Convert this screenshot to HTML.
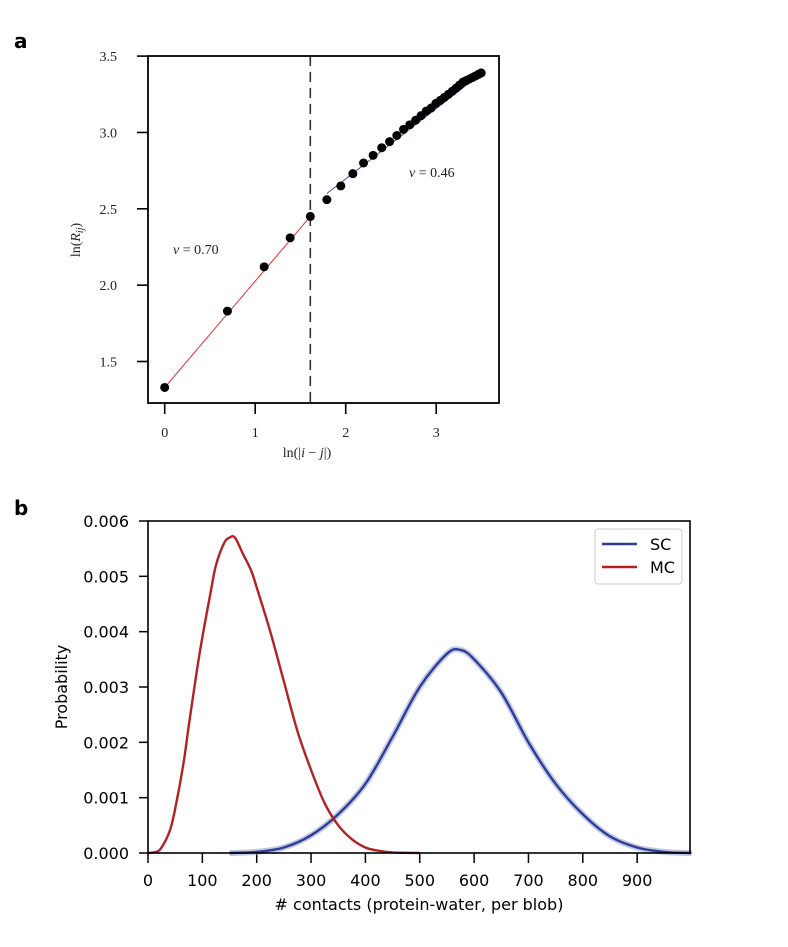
<!DOCTYPE html>
<html><head><meta charset="utf-8"><style>
body{margin:0;background:#fff;}
svg{display:block;}
.ser{font-family:"Liberation Serif",serif;}
.sans{font-family:"DejaVu Sans","Liberation Sans",sans-serif;}
</style></head><body>
<svg id="fig" width="788" height="947" viewBox="0 0 788 947" xmlns="http://www.w3.org/2000/svg">
<text x="14" y="48" class="sans" font-size="20" font-weight="bold">a</text>
<text x="14" y="515" class="sans" font-size="20" font-weight="bold">b</text>
<g id="pa"></g>
<g id="pb"></g>
</svg>
<script>
// ---- Panel a data ----
const aRedX=[0,0.693,1.099,1.386,1.609];
const aRedY=[1.33,1.83,2.12,2.31,2.45];
const aBlueX=[1.792,1.946,2.079,2.197,2.303,2.398,2.485,2.565,2.639,2.708,2.773,2.833,2.890,2.944,2.996,3.045,3.091,3.135,3.178,3.219,3.258,3.296,3.332,3.367,3.401,3.434,3.466,3.497];
const aBlueY=[2.56,2.65,2.73,2.80,2.85,2.90,2.94,2.98,3.02,3.05,3.08,3.11,3.14,3.16,3.19,3.21,3.23,3.25,3.27,3.29,3.31,3.33,3.34,3.35,3.36,3.37,3.38,3.39];
const aRedFit=[[0,1.33],[1.609,2.45]];
const aBlueFit=[[1.792,2.60],[3.497,3.385]];
const aXTicks=[0,1,2,3];
const aYTicks=[1.5,2.0,2.5,3.0,3.5];
const aYTickLabels=["1.5","2.0","2.5","3.0","3.5"];
const aCut=1.609;
// ---- Panel b data ----
const mcX=[0,15,25,40,50,65,75,90,100,115,125,140,150,160,175,190,200,225,250,275,300,325,350,375,400,425,450,500];
const mcY=[0,0.00002,0.0001,0.0004,0.0008,0.0016,0.0023,0.0033,0.0039,0.0047,0.0052,0.0056,0.0057,0.0057,0.0054,0.0051,0.0048,0.0040,0.0031,0.0022,0.0015,0.0009,0.0005,0.00025,0.0001,0.00004,0.00001,0];
const scX=[150,200,250,300,350,400,450,500,550,575,600,650,700,750,800,850,900,950,1000];
const scY=[0,0.00002,0.0001,0.00032,0.0007,0.00125,0.0021,0.0030,0.0036,0.00367,0.0035,0.0029,0.0020,0.00125,0.0007,0.0003,0.0001,0.00002,0];
const bXTicks=[0,100,200,300,400,500,600,700,800,900];
const bYTicks=[0,0.001,0.002,0.003,0.004,0.005,0.006];
const bYTickLabels=["0.000","0.001","0.002","0.003","0.004","0.005","0.006"];
const legendNames=["SC","MC"];
const legendColors=["#2e3d94","#b22222"];

const NS="http://www.w3.org/2000/svg";
function mk(p,tag,attrs){const e=document.createElementNS(NS,tag);for(const k in attrs)e.setAttribute(k,attrs[k]);p.appendChild(e);return e;}

// Panel a
(function(){
const g=document.getElementById('pa');
const L=148,R=499,T=56,B=403;
const xs=v=>164.7+(v-0)*90.5;
const ys=v=>361.5-(v-1.5)*152.7;
aXTicks.forEach(v=>{
 const t=mk(g,'line',{x1:xs(v),x2:xs(v),y1:B,y2:B+11,stroke:'#000','stroke-width':1.6});
 
 const l=mk(g,'text',{x:xs(v),y:437,'text-anchor':'middle','font-size':14,fill:'#222',class:'ser'});l.textContent=v;
 
});
aYTicks.forEach((v,i)=>{
 const t=mk(g,'line',{x1:L-11,x2:L,y1:ys(v),y2:ys(v),stroke:'#000','stroke-width':1.6});
 
 const l=mk(g,'text',{x:117,y:ys(v)+5,'text-anchor':'end','font-size':14,fill:'#222',class:'ser'});l.textContent=aYTickLabels[i];
 
});
const cut=mk(g,'line',{x1:xs(aCut),x2:xs(aCut),y1:T,y2:B,stroke:'#333','stroke-width':1.6,'stroke-dasharray':'10,6'});

const rf=mk(g,'line',{x1:xs(aRedFit[0][0]),y1:ys(aRedFit[0][1]),x2:xs(aRedFit[1][0]),y2:ys(aRedFit[1][1]),stroke:'#e03030','stroke-width':1});

const bf=mk(g,'line',{x1:xs(aBlueFit[0][0]),y1:ys(aBlueFit[0][1]),x2:xs(aBlueFit[1][0]),y2:ys(aBlueFit[1][1]),stroke:'#3a4fa0','stroke-width':1});

aRedX.concat(aBlueX).forEach((x,i)=>{
 const y=i<aRedX.length?aRedY[i]:aBlueY[i-aRedX.length];
 const c=mk(g,'circle',{cx:xs(x),cy:ys(y),r:4.5,fill:'#000'});
 
});
const fr=mk(g,'rect',{x:L,y:T,width:R-L,height:B-T,fill:'none',stroke:'#000','stroke-width':1.8});

const n1=mk(g,'text',{x:173,y:254,'font-size':14,fill:'#222',class:'ser'});n1.innerHTML='<tspan font-style="italic">ν</tspan> = 0.70';

const n2=mk(g,'text',{x:409,y:177,'font-size':14,fill:'#222',class:'ser'});n2.innerHTML='<tspan font-style="italic">ν</tspan> = 0.46';

const xt=mk(g,'text',{x:307,y:457,'text-anchor':'middle','font-size':14,fill:'#222',class:'ser'});xt.innerHTML='ln(|<tspan font-style="italic">i</tspan> − <tspan font-style="italic">j</tspan>|)';

const yt=mk(g,'text',{x:0,y:0,'text-anchor':'middle','font-size':14,fill:'#222',class:'ser',transform:'translate(80,240) rotate(-90)'});yt.innerHTML='ln(<tspan font-style="italic">R</tspan><tspan font-size="10" dy="3" font-style="italic">ij</tspan><tspan dy="-3">)</tspan>';

})();

// Panel b
(function(){
const g=document.getElementById('pb');
const L=148,R=690,T=521,B=853;
const xs=v=>L+v*0.5435;
const ys=v=>B-v/0.006*(B-T);
function path(X,Y){
 const P=X.map((x,i)=>[xs(x),ys(Y[i])]);
 let d='M'+P[0][0]+','+P[0][1];
 for(let i=0;i<P.length-1;i++){
  const p0=P[i-1]||P[i],p1=P[i],p2=P[i+1],p3=P[i+2]||P[i+1];
  const c1=[p1[0]+(p2[0]-p0[0])/6,p1[1]+(p2[1]-p0[1])/6];
  const c2=[p2[0]-(p3[0]-p1[0])/6,p2[1]-(p3[1]-p1[1])/6];
  d+=' C'+c1[0]+','+Math.min(c1[1],B)+' '+c2[0]+','+Math.min(c2[1],B)+' '+p2[0]+','+p2[1];
 }
 return d;
}
bXTicks.forEach(v=>{
 const t=mk(g,'line',{x1:xs(v),x2:xs(v),y1:B,y2:B+10,stroke:'#000','stroke-width':1.5});
 
 const l=mk(g,'text',{x:xs(v),y:886,'text-anchor':'middle','font-size':16,class:'sans'});l.textContent=v;
 
});
bYTicks.forEach((v,i)=>{
 const t=mk(g,'line',{x1:L-9,x2:L,y1:ys(v),y2:ys(v),stroke:'#000','stroke-width':1.5});
 
 const l=mk(g,'text',{x:129,y:ys(v)+6,'text-anchor':'end','font-size':16,class:'sans'});l.textContent=bYTickLabels[i];
 
});
const scb=mk(g,'path',{d:path(scX,scY),fill:'none',stroke:'#9aa3d6','stroke-width':6,opacity:0.6});

const sc=mk(g,'path',{d:path(scX,scY),fill:'none',stroke:legendColors[0],'stroke-width':2.4});

const mc=mk(g,'path',{d:path(mcX,mcY),fill:'none',stroke:legendColors[1],'stroke-width':2.4});

const fr=mk(g,'rect',{x:L,y:T,width:R-L,height:B-T,fill:'none',stroke:'#000','stroke-width':1.6});

const lg=mk(g,'rect',{x:595,y:529,width:87,height:55,fill:'#fff',stroke:'#ccc','stroke-width':1,rx:3});

legendNames.forEach((n,i)=>{
 const y=544+i*23;
 const ln=mk(g,'line',{x1:602,x2:637,y1:y,y2:y,stroke:legendColors[i],'stroke-width':2.4});
 
 const t=mk(g,'text',{x:650,y:y+6,'font-size':16,class:'sans'});t.textContent=n;
 
});
const xt=mk(g,'text',{x:419,y:910,'text-anchor':'middle','font-size':16,class:'sans'});xt.textContent='# contacts (protein-water, per blob)';

const yt=mk(g,'text',{x:0,y:0,'text-anchor':'middle','font-size':16,class:'sans',transform:'translate(67,687) rotate(-90)'});yt.textContent='Probability';

})();
</script>
</body></html>
